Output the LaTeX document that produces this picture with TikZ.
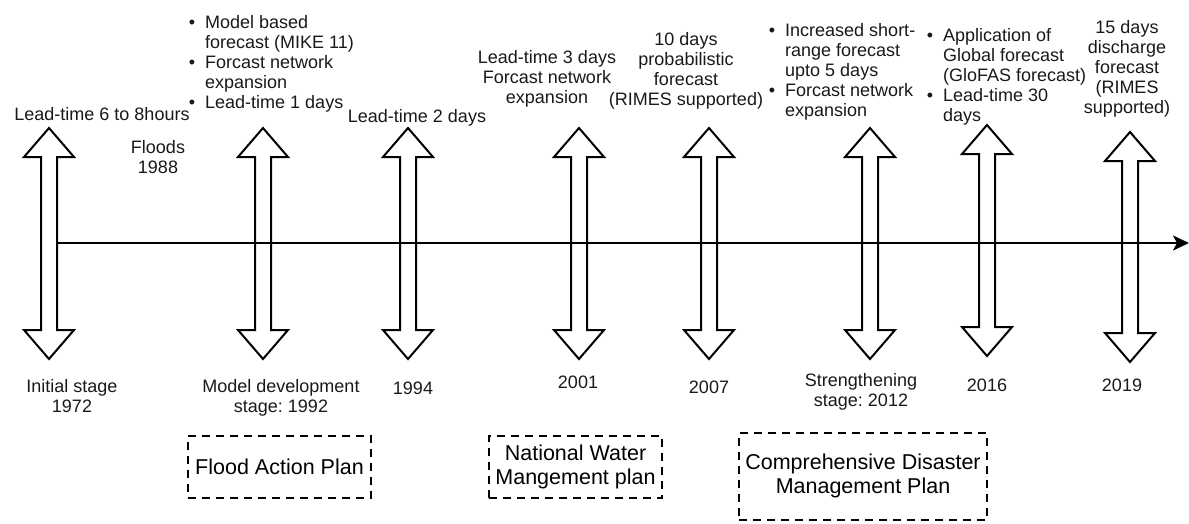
\documentclass[tikz,border=0pt]{standalone}
\usepackage{fontspec}
\setmainfont{Liberation Sans}
\usetikzlibrary{arrows.meta}
\frenchspacing
% stacked lines whose baseline is the first line
\newcommand\tlblock[2][c]{\begin{tabular}[t]{@{}#1@{}}#2\end{tabular}}
% bullet hanging left of a list item
\newcommand\itm{\llap{\textbullet\hspace{10pt}}}
% hollow double-headed block arrow: x, top tip, bottom tip
\newcommand\tlarrow[3]{%
  \draw[hollow] (#1,#2) -- ({#1+25},{#2+29}) -- ({#1+8},{#2+29})
    -- ({#1+8},{#3-29}) -- ({#1+25},{#3-29}) -- (#1,#3)
    -- ({#1-25},{#3-29}) -- ({#1-8},{#3-29}) -- ({#1-8},{#2+29})
    -- ({#1-25},{#2+29}) -- cycle;}
\begin{document}
\begin{tikzpicture}[x=1pt,y=-1pt,
  lbl/.style={inner sep=0pt, anchor=base, text=black!90,
    font=\fontsize{18}{20}\selectfont},
  lst/.style={lbl, anchor=base west},
  plan/.style={draw=black, line width=2pt, dash pattern=on 8pt off 6pt,
    inner sep=0pt, align=center, text=black,
    font=\fontsize{21.5}{24}\selectfont},
  hollow/.style={draw=black, line width=2pt, line join=miter},
  axisline/.style={draw=black, line width=2pt,
    -{Stealth[length=16pt,width=15pt,inset=4pt]}}]

\useasboundingbox (0,0) rectangle (1189,523);

% time-line markers
\tlarrow{49}{128}{359}
\tlarrow{263}{128}{359}
\tlarrow{408}{128}{359}
\tlarrow{579}{128}{359}
\tlarrow{709}{128}{359}
\tlarrow{870}{128}{359}
\tlarrow{987}{125}{356}
\tlarrow{1130}{132}{362}

% main axis
\coordinate (tstart) at (57,243);
\coordinate (tend) at (1189,243);
\draw[axisline] (tstart) -- (tend);

% what each stage delivered
\node[lbl] (t1972) at (102,120) {Lead-time 6 to 8hours};
\node[lbl] (floods) at (158,153) {\tlblock{Floods\\1988}};
\node[lst] (t1992) at (205,28) {\tlblock[l]{\itm Model based\\forecast (MIKE 11)\\
  \itm Forcast network\\expansion\\\itm Lead-time 1 days}};
\node[lbl] (t1994) at (417,122) {Lead-time 2 days};
\node[lbl] (t2001) at (547,63) {\tlblock{Lead-time 3 days\\Forcast network\\expansion}};
\node[lbl] (t2007) at (686,45) {\tlblock{10 days\\probabilistic\\forecast\\(RIMES supported)}};
\node[lst] (t2012) at (785,36) {\tlblock[l]{\itm Increased short-\\range forecast\\upto 5 days\\
  \itm Forcast network\\expansion}};
\node[lst] (t2016) at (943,41) {\tlblock[l]{\itm Application of\\Global forecast\\(GloFAS forecast)\\
  \itm Lead-time 30\\days}};
\node[lbl] (t2019) at (1127,33) {\tlblock{15 days\\discharge\\forecast\\(RIMES\\supported)}};

% stage names and years
\node[lbl] (y1972) at (72,392) {\tlblock{Initial stage\\1972}};
\node[lbl] (y1992) at (281,392) {\tlblock{Model development\\stage: 1992}};
\node[lbl] (y1994) at (413,394) {1994};
\node[lbl] (y2001) at (578,388) {2001};
\node[lbl] (y2007) at (709,393) {2007};
\node[lbl] (y2012) at (861,386) {\tlblock{Strengthening\\stage: 2012}};
\node[lbl] (y2016) at (987,391) {2016};
\node[lbl] (y2019) at (1122,391) {2019};

% policy frameworks
\node[plan, minimum width=183pt, minimum height=62pt] (fap) at (279.5,467) {Flood Action Plan};
\node[plan, minimum width=173pt, minimum height=62pt] (nwmp) at (575.5,467) {National Water\\Mangement plan};
\node[plan, minimum width=248pt, minimum height=87pt] (cdmp) at (863,476) {Comprehensive Disaster\\Management Plan};
\end{tikzpicture}
\end{document}
